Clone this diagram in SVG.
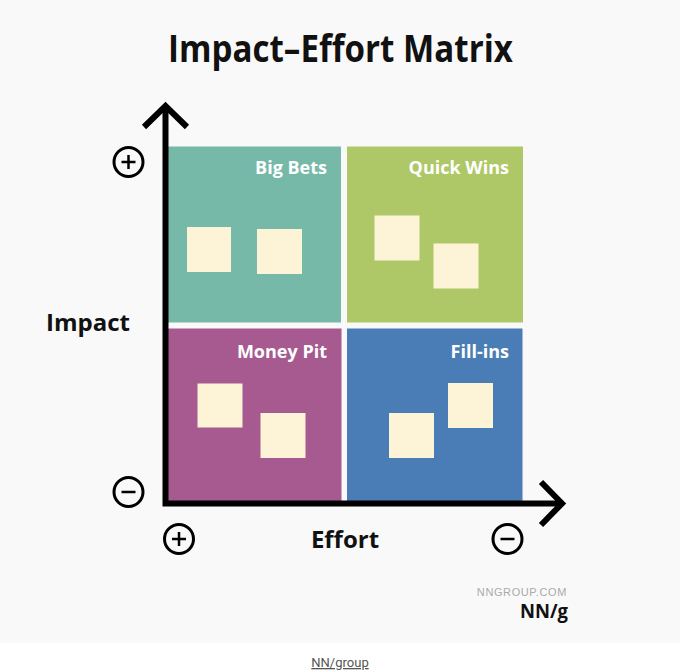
<svg xmlns="http://www.w3.org/2000/svg" width="680" height="672" viewBox="0 0 680 672">
<style>
.bg{fill:#f9f9f9}
.lbl{font-family:"Open Sans","Noto Sans",sans-serif;font-weight:700;fill:#ffffff;font-size:18px;text-anchor:end}
.note{fill:#fdf3d6}
.ax{stroke:#000;stroke-width:6;fill:none}
.circ{stroke:#000;stroke-width:3;fill:none}
.sign{stroke:#000;stroke-width:2.5;fill:none}
.big{font-family:"Open Sans","Noto Sans",sans-serif;font-weight:700;fill:#111}
</style>
<rect x="0" y="0" width="680" height="643" class="bg"/>
<rect x="0" y="643" width="680" height="29" fill="#ffffff"/>
<text x="168" y="62" class="big" font-size="38" textLength="345" lengthAdjust="spacingAndGlyphs">Impact–Effort Matrix</text>
<g id="big-bets">
<rect x="168" y="146.5" width="173" height="176" fill="#76b9a9"/>
<text x="327" y="174" class="lbl">Big Bets</text>
<rect x="187" y="227" width="44" height="45" class="note"/>
<rect x="257" y="229" width="45" height="45" class="note"/>
</g>
<g id="quick-wins">
<rect x="347" y="146.5" width="176" height="176" fill="#afc867"/>
<text x="509" y="174" class="lbl">Quick Wins</text>
<rect x="374.5" y="215.5" width="45" height="45" class="note"/>
<rect x="433.5" y="243.5" width="45" height="45" class="note"/>
</g>
<g id="money-pit">
<rect x="168" y="328.5" width="173.5" height="173" fill="#a65a8f"/>
<text x="327" y="358" class="lbl">Money Pit</text>
<rect x="197.5" y="383.5" width="45" height="44" class="note"/>
<rect x="260.5" y="413" width="45" height="45" class="note"/>
</g>
<g id="fill-ins">
<rect x="347" y="328.5" width="175.5" height="173" fill="#4a7db5"/>
<text x="509" y="358" class="lbl">Fill-ins</text>
<rect x="448" y="383" width="45" height="45" class="note"/>
<rect x="389" y="413" width="45" height="45" class="note"/>
</g>
<g id="connectors">
<path d="M165.5 106 V503.5 H563" class="ax"/>
<path d="M144 127 L165.5 106 L187 127" class="ax"/>
<path d="M541 482 L562 503.5 L541 525" class="ax"/>
</g>
<g id="axis-marks">
<circle cx="128.5" cy="162" r="14.5" class="circ"/>
<path d="M121.5 162 H135.5 M128.5 155 V169" class="sign"/>
<circle cx="128.5" cy="492" r="14.5" class="circ"/>
<path d="M121.5 492 H135.5" class="sign"/>
<circle cx="179" cy="539" r="14.5" class="circ"/>
<path d="M172 539 H186 M179 532 V546" class="sign"/>
<circle cx="507.5" cy="539" r="14.5" class="circ"/>
<path d="M500.5 539 H514.5" class="sign"/>
</g>
<text x="88" y="331" class="big" font-size="24" text-anchor="middle">Impact</text>
<text x="345" y="548" class="big" font-size="24" text-anchor="middle">Effort</text>
<text x="567" y="596" font-family="'Liberation Sans',sans-serif" font-size="11" fill="#aaaaaa" text-anchor="end" letter-spacing="0.6">NNGROUP.COM</text>
<text x="520" y="618" class="big" font-size="20" textLength="48" lengthAdjust="spacingAndGlyphs">NN/g</text>
<text x="340" y="667" font-family="Roboto,'Liberation Sans',sans-serif" font-size="13" fill="#555" text-anchor="middle" text-decoration="underline">NN/group</text>
</svg>
